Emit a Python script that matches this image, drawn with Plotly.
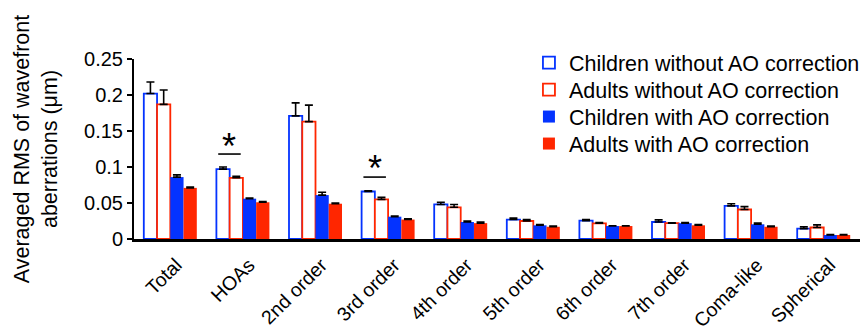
import plotly.graph_objects as go

categories = ["Total", "HOAs", "2nd order", "3rd order", "4th order",
              "5th order", "6th order", "7th order", "Coma-like", "Spherical"]

children_no_ao = [0.202, 0.097, 0.171, 0.066, 0.048, 0.027, 0.0255, 0.0236, 0.046, 0.0144]
children_no_ao_err = [0.016, 0.003, 0.018, 0.001, 0.003, 0.002, 0.0015, 0.003, 0.003, 0.0026]
adults_no_ao = [0.187, 0.085, 0.163, 0.055, 0.044, 0.025, 0.0218, 0.022, 0.041, 0.016]
adults_no_ao_err = [0.020, 0.002, 0.023, 0.003, 0.004, 0.002, 0.0012, 0.0004, 0.004, 0.0036]
children_ao = [0.086, 0.056, 0.061, 0.031, 0.0236, 0.019, 0.018, 0.022, 0.0204, 0.0056]
children_ao_err = [0.003, 0.001, 0.004, 0.001, 0.0014, 0.001, 0.0004, 0.0008, 0.0016, 0.0005]
adults_ao = [0.071, 0.051, 0.049, 0.027, 0.022, 0.017, 0.018, 0.019, 0.017, 0.0056]
adults_ao_err = [0.001, 0.001, 0.001, 0.001, 0.0014, 0.001, 0.0004, 0.001, 0.001, 0.0005]

legend_names = ["Children without AO correction", "Adults without AO correction",
                "Children with AO correction", "Adults with AO correction"]

# significance markers: (category, y of line, y of star)
sig_categories = ["HOAs", "3rd order"]
sig_line_y = [0.118, 0.086]
sig_star_y = [0.129, 0.098]

BLUE = "#0433FF"
RED = "#FF2600"

def err(arr):
    return dict(type="data", array=arr, arrayminus=[0] * len(arr), symmetric=False,
                color="black", thickness=1.6, width=4)

series = [
    (children_no_ao, children_no_ao_err, dict(color="white", line=dict(color=BLUE, width=1.8))),
    (adults_no_ao, adults_no_ao_err, dict(color="white", line=dict(color=RED, width=1.8))),
    (children_ao, children_ao_err, dict(color=BLUE, line=dict(color=BLUE, width=0))),
    (adults_ao, adults_ao_err, dict(color=RED, line=dict(color=RED, width=0))),
]
legend_ids = ["legend", "legend2", "legend3", "legend4"]

fig = go.Figure()
for (vals, errs, mk), name, lid in zip(series, legend_names, legend_ids):
    fig.add_trace(go.Bar(x=categories, y=vals, name=name, marker=mk,
                         error_y=err(errs), legend=lid))

for cat, ly, sy in zip(sig_categories, sig_line_y, sig_star_y):
    i = categories.index(cat)
    fig.add_shape(type="line", xref="x", yref="y", x0=i - 0.34, x1=i - 0.03,
                  y0=ly, y1=ly, line=dict(color="black", width=1.6))
    fig.add_annotation(x=i - 0.185, y=sy, xref="x", yref="y", text="*", showarrow=False,
                       font=dict(size=36, color="black", family="Liberation Sans"),
                       yanchor="middle")

legend_style = dict(xanchor="left", yanchor="top", font=dict(size=21.5),
                    bgcolor="rgba(0,0,0,0)", itemwidth=30, x=0.544)
legend_y = [1.094, 0.944, 0.794, 0.644]

fig.update_layout(
    width=864, height=331,
    margin=dict(l=134, r=4, t=59, b=92, autoexpand=False),
    barmode="group", bargap=0.27, bargroupgap=0,
    plot_bgcolor="white", paper_bgcolor="white",
    font=dict(family="Liberation Sans, Arial, sans-serif", size=20, color="black"),
    showlegend=True,
    legend=dict(y=legend_y[0], **legend_style),
    legend2=dict(y=legend_y[1], **legend_style),
    legend3=dict(y=legend_y[2], **legend_style),
    legend4=dict(y=legend_y[3], **legend_style),
    yaxis=dict(range=[0, 0.25], tickvals=[0, 0.05, 0.1, 0.15, 0.2, 0.25],
               ticktext=["0", "0.05", "0.1", "0.15", "0.2", "0.25"],
               showline=True, linecolor="black", linewidth=2, ticks="outside",
               ticklen=5, tickwidth=2, tickcolor="black", showgrid=False, zeroline=False,
               tickfont=dict(size=20), automargin=False,
               title=dict(text="Averaged RMS of wavefront<br>aberrations (μm)",
                          font=dict(size=21.5), standoff=21)),
    xaxis=dict(showline=True, linecolor="black", linewidth=3, ticks="", showgrid=False,
               tickangle=-45, tickfont=dict(size=19.5), automargin=False,
               ticklabelstandoff=4, ticklabelshift=6),
)

fig.write_html("out.html", config={"displayModeBar": False},
               post_script="document.body.style.margin='0';document.body.style.overflow='hidden';")
